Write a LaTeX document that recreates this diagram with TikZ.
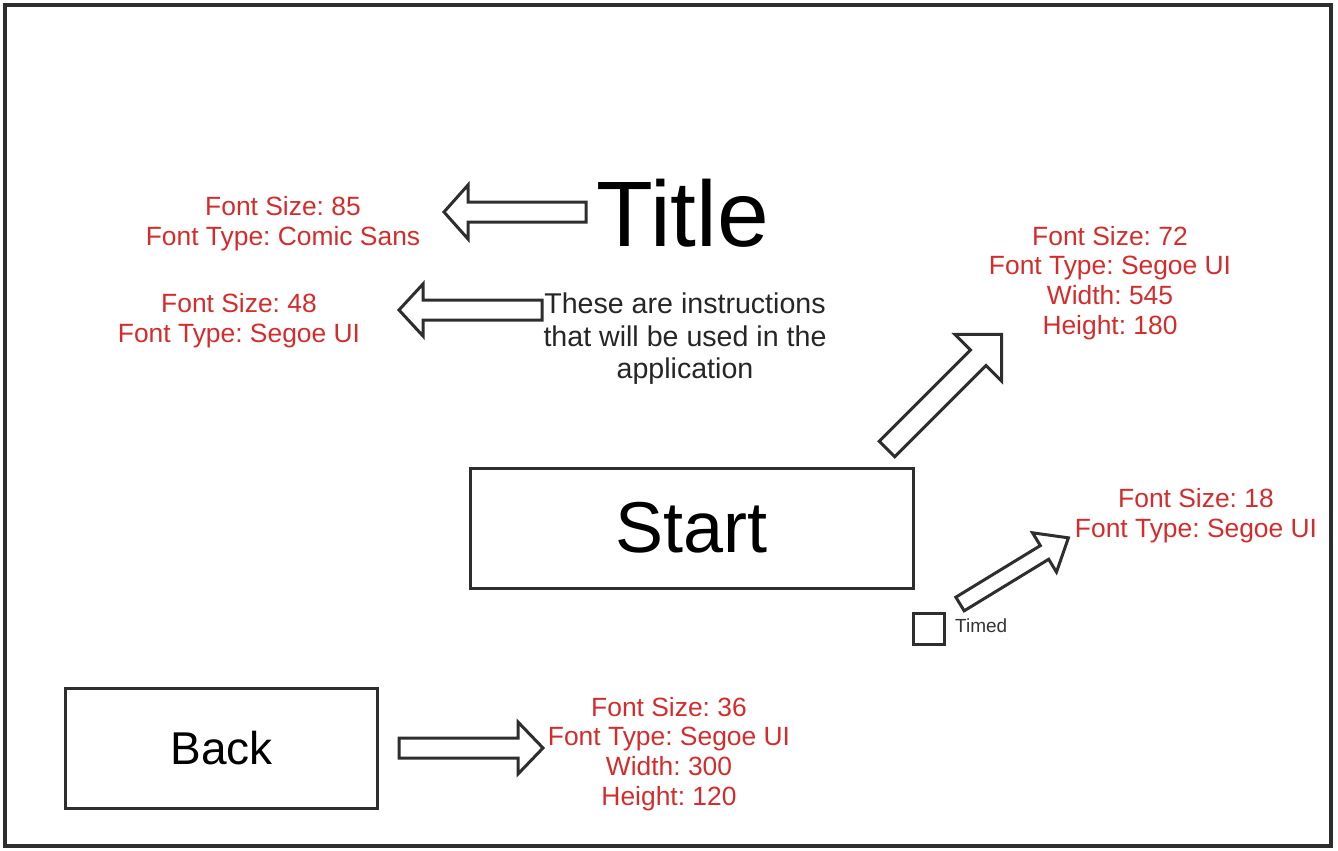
\documentclass[tikz,border=0pt]{standalone}
\usepackage{fontspec}
\setmainfont{Liberation Sans}
\frenchspacing
\definecolor{notered}{HTML}{D42C2C}
\definecolor{linegray}{HTML}{2E2E2E}
\tikzset{
  arrowline/.style={draw=linegray, line width=3bp, line join=miter, fill=white},
  boxline/.style={draw=linegray, line width=3bp, rectangle, inner sep=0pt},
  note/.style={text=notered, align=center, inner sep=0pt, font=\fontsize{26.4bp}{29.7bp}\selectfont},
}
\newcommand\blockarrow[7]{%
  \begin{scope}[shift={(#1,#2)},rotate=#3]
    \draw[arrowline] (0,-#6) -- ({#4-#5},-#6) -- ({#4-#5},-#7) -- (#4,0) -- ({#4-#5},#7) -- ({#4-#5},#6) -- (0,#6) -- cycle;
  \end{scope}}
\begin{document}
\begin{tikzpicture}[x=1bp,y=-1bp]
\useasboundingbox (0,0) rectangle (1338,850);
\draw[draw=linegray, line width=3.5bp] (5,5) rectangle (1331,846);

% title and instructions
\node[inner sep=0pt, font=\fontsize{93bp}{100bp}\selectfont] (title) at (683,213) {Title};
\node[inner sep=0pt, align=center, font=\fontsize{28.6bp}{32.5bp}\selectfont, text=black!85] (instr) at (685,339) {These are instructions\\that will be used in the\\application};

% start button
\node[boxline, minimum width=443bp, minimum height=120bp, font=\fontsize{72bp}{80bp}\selectfont] (start) at (691.5,528) {Start};

% back button
\node[boxline, minimum width=311bp, minimum height=120bp, font=\fontsize{46bp}{52bp}\selectfont] (back) at (221.5,748) {Back};

% timed checkbox
\node[boxline, minimum width=31bp, minimum height=31bp] (check) at (928.5,629) {};
\node[anchor=west, inner sep=0pt, font=\fontsize{19bp}{22bp}\selectfont, text=black!80] (timed) at (955,626) {Timed};

% notes
\node[note] (n1) at (283,224) {Font Size: 85\\Font Type: Comic Sans};
\node[note] (n2) at (239,321) {Font Size: 48\\Font Type: Segoe UI};
\node[note] (n3) at (1110,283) {Font Size: 72\\Font Type: Segoe UI\\Width: 545\\Height: 180};
\node[note] (n4) at (1196,516) {Font Size: 18\\Font Type: Segoe UI};
\node[note] (n5) at (669,754) {Font Size: 36\\Font Type: Segoe UI\\Width: 300\\Height: 120};

% block arrows
\blockarrow{586}{212}{180}{142}{24}{10}{27}
\blockarrow{542}{310}{180}{143}{24}{10}{26}
\blockarrow{887}{449}{45}{162}{33}{11}{33}
\blockarrow{960}{604}{31.4}{127}{28}{8}{23}
\blockarrow{399}{748}{0}{144}{25}{10}{26}
\end{tikzpicture}
\end{document}
